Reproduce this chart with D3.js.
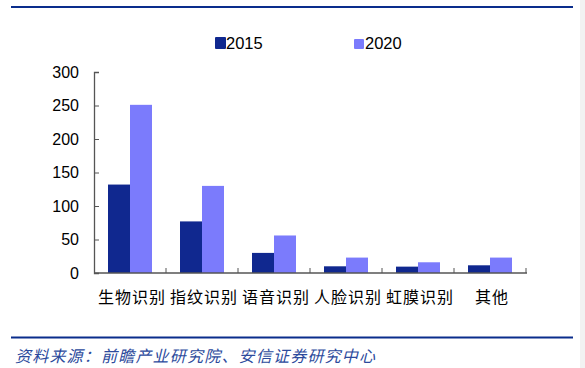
<!DOCTYPE html>
<html>
<head>
<meta charset="utf-8">
<script src="https://cdn.jsdelivr.net/npm/d3@7/dist/d3.min.js"></script>
<style>
body { margin: 0; background: #fff; }
svg { display: block; }
</style>
</head>
<body>
<svg width="585" height="368"></svg>
<script>
// data
var categories = ["生物识别", "指纹识别", "语音识别", "人脸识别", "虹膜识别", "其他"];
var series = ["2015", "2020"];
var values2015 = [132, 77, 30, 10, 9.5, 11.5];
var values2020 = [251, 130, 56, 23, 16, 23];
var yTicks = [0, 50, 100, 150, 200, 250, 300];
var source = "资料来源：前瞻产业研究院、安信证券研究中心";

var colors = ["#10288f", "#7b7bfc"];

var svg = d3.select("svg");

// page frame lines
svg.append("rect").attr("x", 580).attr("y", 0).attr("width", 5).attr("height", 368).attr("fill", "#f2f2f2");
svg.append("line").attr("x1", 11).attr("x2", 573).attr("y1", 7).attr("y2", 7)
    .attr("stroke", "#0a2d8c").attr("stroke-width", 2.2);
svg.append("line").attr("x1", 11).attr("x2", 573).attr("y1", 337.5).attr("y2", 337.5)
    .attr("stroke", "#0a2d8c").attr("stroke-width", 2.2);

var scaleX = d3.scaleBand().domain(categories).range([94, 526]);
var scaleY = d3.scaleLinear().domain([0, 300]).range([273, 72]);
var inner = d3.scaleBand().domain(series).range([14, 58]);

var g = svg.append("g");

var groups = g.selectAll(".grp")
    .data(categories)
    .enter()
    .append("g")
    .attr("class", "grp")
    .attr("transform", function(d){ return "translate(" + scaleX(d) + ",0)"; });

groups.selectAll("rect")
    .data(function(d, i){
        return [{s: series[0], v: values2015[i]}, {s: series[1], v: values2020[i]}];
    })
    .enter()
    .append("rect")
    .attr("x", function(d){ return inner(d.s); })
    .attr("width", inner.bandwidth())
    .attr("y", function(d){ return scaleY(d.v); })
    .attr("height", function(d){ return scaleY(0) - scaleY(d.v); })
    .attr("fill", function(d, i){ return colors[i]; });

// y axis
var yAxis = svg.append("g")
    .attr("transform", "translate(94,0)")
    .call(d3.axisLeft(scaleY).tickValues(yTicks).tickSize(-5).tickPadding(15));
yAxis.select(".domain").attr("stroke", "#555").attr("stroke-width", 1.3);
yAxis.selectAll(".tick line").attr("stroke", "#555");
yAxis.selectAll("text")
    .attr("font-family", "Liberation Sans, Arial, sans-serif")
    .attr("font-size", 16).attr("fill", "#000");

// x axis with inward ticks at band edges
var xAxisG = svg.append("g");
xAxisG.append("line").attr("x1", 94).attr("x2", 527).attr("y1", 273).attr("y2", 273)
    .attr("stroke", "#555").attr("stroke-width", 1.3);
xAxisG.selectAll(".xt")
    .data(categories)
    .enter()
    .append("line")
    .attr("class", "xt")
    .attr("x1", function(d){ return scaleX(d) + scaleX.bandwidth(); })
    .attr("x2", function(d){ return scaleX(d) + scaleX.bandwidth(); })
    .attr("y1", 268).attr("y2", 273)
    .attr("stroke", "#555");
xAxisG.selectAll(".xl")
    .data(categories)
    .enter()
    .append("text")
    .attr("class", "xl")
    .attr("x", function(d){ return scaleX(d) + scaleX.bandwidth() / 2 + 2; })
    .attr("y", 303)
    .attr("text-anchor", "middle")
    .attr("font-family", "Noto Sans CJK SC, sans-serif")
    .attr("font-size", 16)
    .attr("letter-spacing", 1)
    .attr("fill", "#000")
    .text(function(d){ return d; });

// legend
var legX = [215, 354];
var leg = svg.selectAll(".leg")
    .data(series)
    .enter()
    .append("g")
    .attr("class", "leg")
    .attr("transform", function(d, i){ return "translate(" + legX[i] + ",0)"; });
leg.append("rect")
    .attr("x", 0)
    .attr("y", function(d, i){ return i == 0 ? 37 : 39; })
    .attr("width", function(d, i){ return i == 0 ? 11 : 10; })
    .attr("height", function(d, i){ return i == 0 ? 12 : 10; })
    .attr("rx", 1)
    .attr("fill", function(d, i){ return colors[i]; });
leg.append("text")
    .attr("x", function(d, i){ return i == 0 ? 11 : 11; })
    .attr("y", 49)
    .attr("font-family", "Liberation Sans, Arial, sans-serif")
    .attr("font-size", 16.5)
    .attr("fill", "#000")
    .text(function(d){ return d; });

// source note
svg.append("text")
    .attr("x", 15)
    .attr("y", 362)
    .attr("font-family", "Noto Sans CJK SC, sans-serif")
    .attr("font-style", "italic")
    .attr("font-size", 16)
    .attr("letter-spacing", 1.2)
    .attr("fill", "#2c4a9c")
    .text(source);
</script>
</body>
</html>
